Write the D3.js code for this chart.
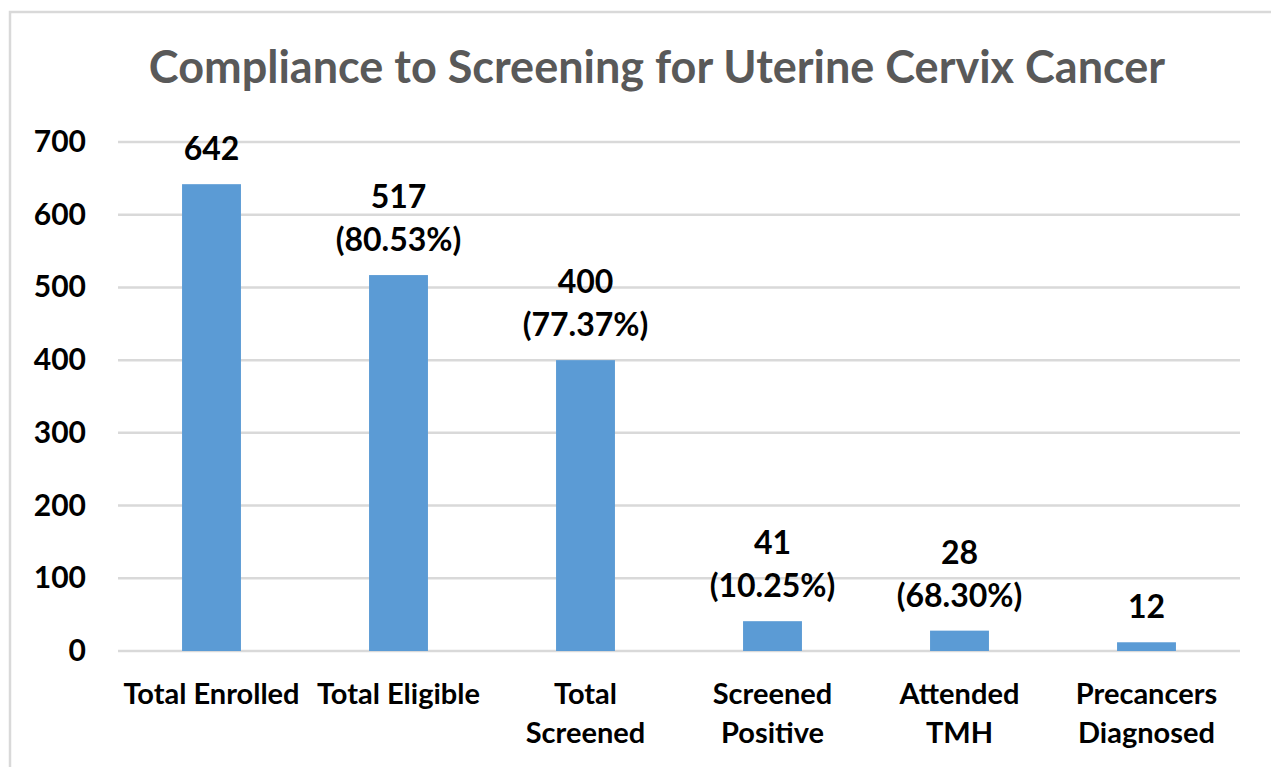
<!DOCTYPE html>
<html lang="en">
<head>
<meta charset="UTF-8">
<title>Compliance to Screening for Uterine Cervix Cancer</title>
<style>
  body { margin: 0; background: #fff; }
  text { font-family: Lato, "Open Sans", sans-serif; }
</style>
</head>
<body>
<script src="https://cdn.jsdelivr.net/npm/d3@7"></script>
<script>
const categories = [
    ['Total Enrolled'],
    ['Total Eligible'],
    ['Total', 'Screened'],
    ['Screened', 'Positive'],
    ['Attended', 'TMH'],
    ['Precancers', 'Diagnosed']
]
const values = [642, 517, 400, 41, 28, 12]
const percents = ['', '(80.53%)', '(77.37%)', '(10.25%)', '(68.30%)', '']
const yTicks = [0, 100, 200, 300, 400, 500, 600, 700]

const m = { width: 1271, height: 767 }
const plot = { left: 118, right: 1240, top: 142, bottom: 651 }

const svg = d3.select('body').append('svg')
    .attr('width', m.width)
    .attr('height', m.height)

// chart frame
svg.append('rect')
    .attr('x', 10).attr('y', 12)
    .attr('width', 1400).attr('height', 900)
    .attr('fill', 'none')
    .attr('stroke', '#d9d9d9')
    .attr('stroke-width', 2.5)

svg.append('text')
    .attr('x', 657).attr('y', 83)
    .attr('text-anchor', 'middle')
    .attr('font-size', 45)
    .attr('font-weight', 'bold')
    .attr('fill', '#595959')
    .text('Compliance to Screening for Uterine Cervix Cancer')

const x = d3.scaleBand()
    .domain(d3.range(categories.length))
    .range([plot.left, plot.right])
    .paddingInner(0.685)
    .paddingOuter(0.3425)

const y = d3.scaleLinear()
    .domain([0, 700])
    .range([plot.bottom, plot.top])

// gridlines
svg.append('g')
    .selectAll('line')
    .data(yTicks)
    .enter()
    .append('line')
        .attr('x1', plot.left)
        .attr('x2', plot.right)
        .attr('y1', d => y(d))
        .attr('y2', d => y(d))
        .attr('stroke', '#d9d9d9')
        .attr('stroke-width', 2.5)

// y tick labels
svg.append('g')
    .selectAll('text')
    .data(yTicks)
    .enter()
    .append('text')
        .attr('x', 86)
        .attr('y', d => y(d) + 10)
        .attr('text-anchor', 'end')
        .attr('font-size', 30)
        .attr('font-weight', 'bold')
        .attr('fill', '#000')
        .text(d => d)

// bars
svg.append('g')
    .selectAll('rect')
    .data(values)
    .enter()
    .append('rect')
        .attr('x', (d, i) => x(i))
        .attr('y', d => y(d))
        .attr('width', x.bandwidth())
        .attr('height', d => y(0) - y(d))
        .attr('fill', '#5b9bd5')

// value labels
const lbl = svg.append('g')
    .selectAll('text')
    .data(values)
    .enter()
    .append('text')
        .attr('x', (d, i) => x(i) + x.bandwidth() / 2)
        .attr('y', d => y(d) - 24)
        .attr('text-anchor', 'middle')
        .attr('font-size', 32)
        .attr('font-weight', 'bold')
        .attr('fill', '#000')

lbl.each(function(d, i) {
    const t = d3.select(this)
    const cx = x(i) + x.bandwidth() / 2
    if (percents[i]) {
        t.append('tspan').attr('x', cx).attr('dy', -43).text(d)
        t.append('tspan').attr('x', cx).attr('dy', 43).text(percents[i])
    } else {
        t.text(d)
    }
})

// category labels
svg.append('g')
    .selectAll('text')
    .data(categories)
    .enter()
    .append('text')
        .attr('text-anchor', 'middle')
        .attr('font-size', 29)
        .attr('font-weight', 'bold')
        .attr('fill', '#000')
        .each(function(lines, i) {
            const cx = x(i) + x.bandwidth() / 2
            lines.forEach((s, k) => {
                d3.select(this).append('tspan')
                    .attr('x', cx)
                    .attr('y', 704 + k * 39)
                    .text(s)
            })
        })
</script>
</body>
</html>
